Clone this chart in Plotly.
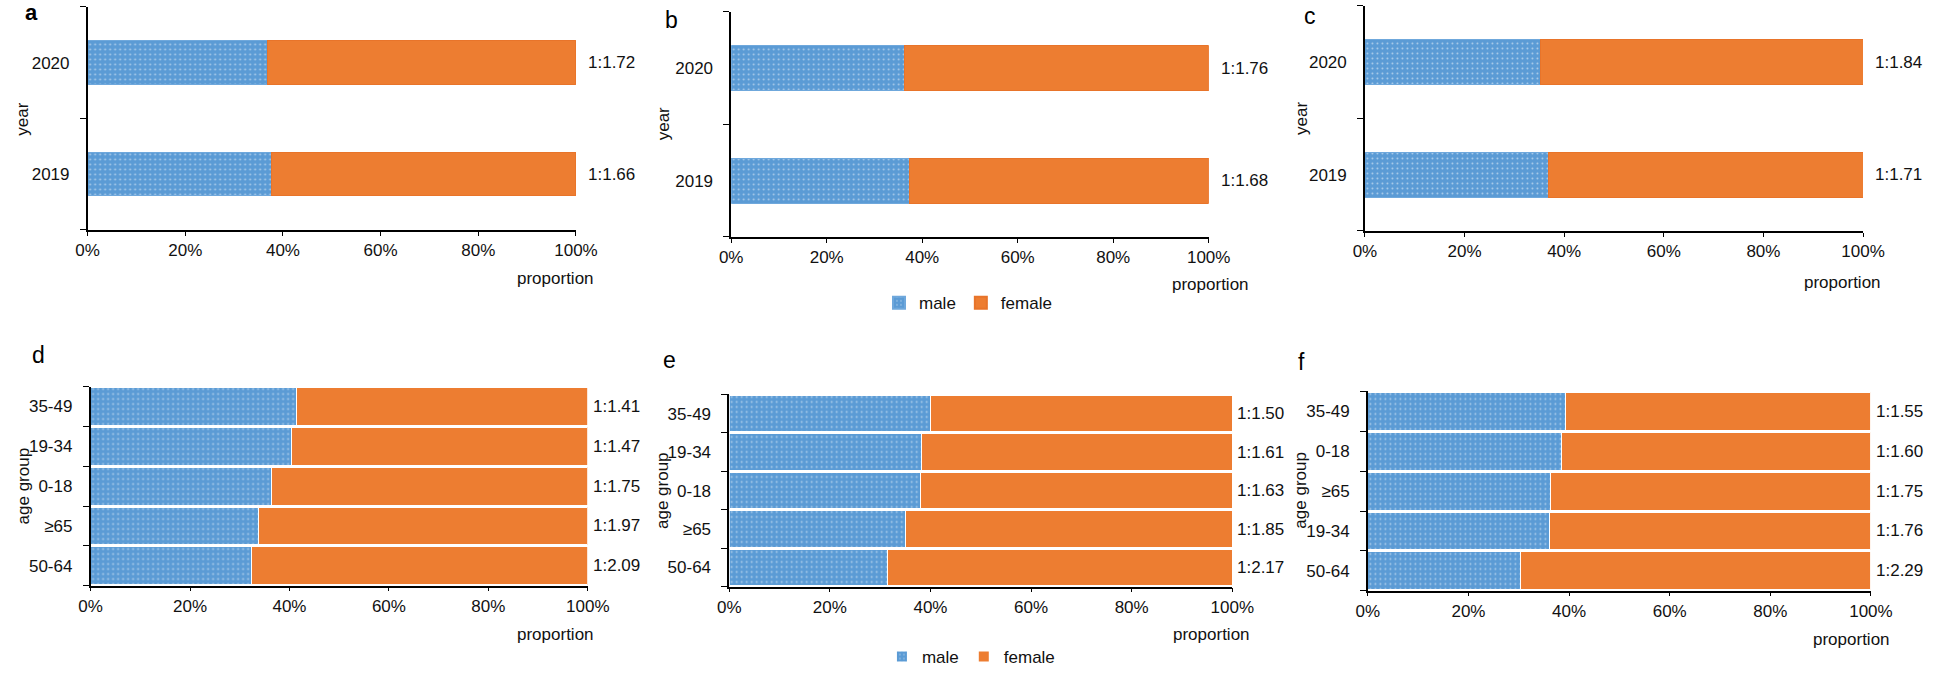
import plotly.graph_objects as go

# ---------------- data ----------------
years = ["2019", "2020"]
a_male = [37.6, 36.8]
a_female = [62.4, 63.2]
a_ratio = ["1:1.66", "1:1.72"]

b_male = [37.3, 36.2]
b_female = [62.7, 63.8]
b_ratio = ["1:1.68", "1:1.76"]

c_male = [36.9, 35.2]
c_female = [63.1, 64.8]
c_ratio = ["1:1.71", "1:1.84"]

d_groups = ["50-64", "≥65", "0-18", "19-34", "35-49"]
d_male = [32.4, 33.7, 36.4, 40.5, 41.5]
d_female = [67.6, 66.3, 63.6, 59.5, 58.5]
d_ratio = ["1:2.09", "1:1.97", "1:1.75", "1:1.47", "1:1.41"]

e_groups = ["50-64", "≥65", "0-18", "19-34", "35-49"]
e_male = [31.5, 35.1, 38.0, 38.3, 40.0]
e_female = [68.5, 64.9, 62.0, 61.7, 60.0]
e_ratio = ["1:2.17", "1:1.85", "1:1.63", "1:1.61", "1:1.50"]

f_groups = ["50-64", "19-34", "≥65", "0-18", "35-49"]
f_male = [30.4, 36.2, 36.4, 38.5, 39.2]
f_female = [69.6, 63.8, 63.6, 61.5, 60.8]
f_ratio = ["1:2.29", "1:1.76", "1:1.75", "1:1.60", "1:1.55"]

x_ticks = [0, 20, 40, 60, 80, 100]
x_ticklabels = ["0%", "20%", "40%", "60%", "80%", "100%"]

# ---------------- style / layout ----------------
W, H = 1944, 675
FONT = "Liberation Sans, Arial, sans-serif"
BLUE = "#5B9BD5"
ORANGE = "#ED7D31"
TXT = "#111111"


def px_x(v):
    return v / W


def px_y(v):
    return 1 - v / H


panels = [
    dict(letter="a", cats=years, male=a_male, female=a_female, ratio=a_ratio, ytitle="year",
         xd=(77, 574), yd=(7, 232), bw=0.39, lpos=(20, 13), bold=True, ypos=(11, 120), ppos=(594, 281), legend=None),
    dict(letter="b", cats=years, male=b_male, female=b_female, ratio=b_ratio, ytitle="year",
         xd=(732, 1218), yd=(12, 239), bw=0.40, lpos=(671, 20), bold=False, ypos=(663, 125), ppos=(1261, 287), legend="legend"),
    dict(letter="c", cats=years, male=c_male, female=c_female, ratio=c_ratio, ytitle="year",
         xd=(1377, 1884), yd=(6, 233), bw=0.40, lpos=(1321, 16), bold=False, ypos=(1313, 120), ppos=(1904, 285), legend=None),
    dict(letter="d", cats=d_groups, male=d_male, female=d_female, ratio=d_ratio, ytitle="age group",
         xd=(80, 586), yd=(390, 591), bw=0.95, lpos=(27, 358), bold=False, ypos=(12, 490), ppos=(594, 640), legend=None),
    dict(letter="e", cats=e_groups, male=e_male, female=e_female, ratio=e_ratio, ytitle="age group",
         xd=(730, 1242), yd=(398, 592), bw=0.95, lpos=(669, 363), bold=False, ypos=(662, 495), ppos=(1262, 640), legend="legend2"),
    dict(letter="f", cats=f_groups, male=f_male, female=f_female, ratio=f_ratio, ytitle="age group",
         xd=(1380, 1892), yd=(395, 596), bw=0.95, lpos=(1312, 365), bold=False, ypos=(1312, 495), ppos=(1913, 645), legend=None),
]

fig = go.Figure()
annotations = []
layout = {}

for i, p in enumerate(panels):
    n = "" if i == 0 else str(i + 1)
    xa, ya = "x" + n, "y" + n
    show = p["legend"] is not None
    top_row = i < 3
    pos = list(range(len(p["cats"])))
    line_m = dict(color="white" if not top_row else "#6FA8DC", width=1)
    line_f = dict(color="white" if not top_row else "#E8742A", width=1)
    fig.add_trace(go.Bar(
        y=pos, x=p["male"], orientation="h", name="male", width=p["bw"],
        xaxis=xa, yaxis=ya, showlegend=show,
        legend=p["legend"] if show else None,
        marker=dict(color=BLUE, line=line_m,
                    pattern=dict(shape=".", fgcolor="white", size=5, solidity=0.12)),
    ))
    fig.add_trace(go.Bar(
        y=pos, x=p["female"], orientation="h", name="female", width=p["bw"],
        xaxis=xa, yaxis=ya, showlegend=show,
        legend=p["legend"] if show else None,
        marker=dict(color=ORANGE, line=line_f),
    ))
    # ratio labels at bar end
    for k, m, f, r in zip(pos, p["male"], p["female"], p["ratio"]):
        annotations.append(dict(x=m + f, y=k, xref=xa, yref=ya, text=r, showarrow=False,
                                xanchor="left", yanchor="middle", xshift=10 if top_row else 3,
                                font=dict(family=FONT, size=17, color=TXT)))
    layout["xaxis" + n] = dict(
        domain=[px_x(p["xd"][0]), px_x(p["xd"][1])], anchor=ya, range=[0, 100],
        tickvals=x_ticks, ticktext=x_ticklabels, showgrid=False, zeroline=False,
        showline=True, linecolor="black", linewidth=1.5, ticks="outside", ticklen=4,
        tickcolor="black", tickwidth=1.3,
        tickfont=dict(family=FONT, size=17, color=TXT), fixedrange=True,
    )
    layout["yaxis" + n] = dict(
        domain=[px_y(p["yd"][1]), px_y(p["yd"][0])], anchor=xa,
        range=[-0.5, len(pos) - 0.5], tickvals=pos, ticktext=p["cats"],
        showgrid=False, zeroline=False, showline=True, linecolor="black", linewidth=1.5,
        ticks="", ticklabelstandoff=13,
        minor=dict(ticks="outside", ticklen=6, tick0=-0.5, dtick=1, tickcolor="black",
                   tickwidth=1.3, showgrid=False),
        tickfont=dict(family=FONT, size=17, color=TXT), fixedrange=True,
    )
    # panel letter
    annotations.append(dict(x=px_x(p["lpos"][0]), y=px_y(p["lpos"][1]), xref="paper", yref="paper",
                            text=("<b>%s</b>" % p["letter"]) if p["bold"] else p["letter"],
                            showarrow=False, xanchor="center", yanchor="middle",
                            font=dict(family=FONT, size=23 if not p["bold"] else 22, color="black")))
    # y title
    annotations.append(dict(x=px_x(p["ypos"][0]), y=px_y(p["ypos"][1]), xref="paper", yref="paper",
                            text=p["ytitle"], textangle=-90, showarrow=False,
                            xanchor="center", yanchor="middle",
                            font=dict(family=FONT, size=17, color=TXT)))
    # x title
    annotations.append(dict(x=px_x(p["ppos"][0]), y=px_y(p["ppos"][1]), xref="paper", yref="paper",
                            text="proportion", showarrow=False, xanchor="right", yanchor="middle",
                            font=dict(family=FONT, size=17, color=TXT)))

legend_common = dict(orientation="h", xanchor="center", yanchor="middle",
                     font=dict(family=FONT, size=17, color=TXT), itemwidth=30,
                     bgcolor="rgba(0,0,0,0)", traceorder="normal", itemsizing="constant")

fig.update_layout(
    width=W, height=H, margin=dict(l=0, r=0, t=0, b=0),
    paper_bgcolor="white", plot_bgcolor="white",
    barmode="stack",
    font=dict(family=FONT, size=17, color=TXT),
    annotations=annotations,
    legend=dict(x=px_x(973), y=px_y(306), **legend_common),
    legend2=dict(x=px_x(976), y=px_y(663), **legend_common),
    **layout,
)

fig.write_html("out.html", config={"displayModeBar": False},
               post_script="document.body.style.margin='0';document.body.style.overflow='hidden';")
